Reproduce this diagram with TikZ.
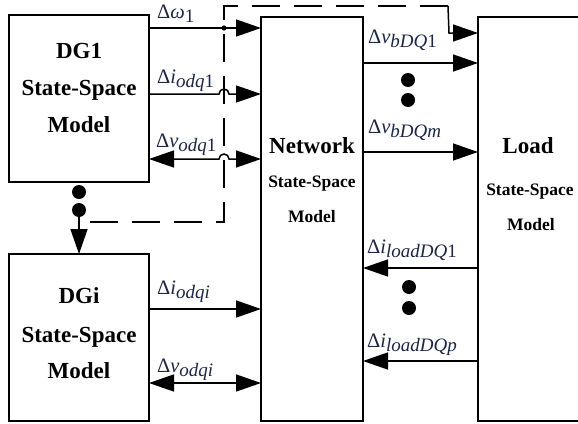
\documentclass[tikz,border=0pt]{standalone}
\usepackage{fontspec}
\setmainfont{Liberation Serif}
\usetikzlibrary{arrows.meta}
\definecolor{lab}{RGB}{28,38,70}
\newcommand{\lbl}[2]{\textcolor{lab}{{\fontsize{20.5}{20}\selectfont Δ#1}{\fontsize{19}{18}\selectfont\raisebox{-4.5pt}{#2}}}}
\tikzset{
  box/.style={draw, line width=2pt, inner sep=0pt, outer sep=0pt},
  big/.style={font=\fontsize{23}{23}\selectfont\bfseries, anchor=base, inner sep=0pt},
  small/.style={font=\fontsize{17.5}{17.5}\selectfont\bfseries, anchor=base, inner sep=0pt},
  lb/.style={anchor=base west, inner sep=0pt},
  tip/.tip={Triangle[length=25pt,width=17pt]},
  arr/.style={line width=1.5pt, -tip},
  darr/.style={line width=1.5pt, tip-tip},
  dsh/.style={line width=1.5pt, dash pattern=on 28pt off 14pt},
  hop/.style={line width=1.5pt}
}
\begin{document}
\begin{tikzpicture}[x=1pt,y=-1pt]
\useasboundingbox (0,0) rectangle (578,423);
\clip (0,0) rectangle (578,423);
\fill[white] (0,0) rectangle (578,423);
% boxes
\node[box, minimum width=140pt, minimum height=167pt] (DG1) at (79,98.5) {};
\node[box, minimum width=140pt, minimum height=167pt] (DGi) at (79,337.5) {};
\node[box, minimum width=102pt, minimum height=404pt] (Net) at (312,219) {};
\node[box, minimum width=104pt, minimum height=404pt] (Load) at (530,219) {};
% box texts
\node[big] (t1) at (79,58) {DG1};
\node[big] (t2) at (79,95) {State-Space};
\node[big] (t3) at (79,132) {Model};
\node[big] (t4) at (79,303) {DGi};
\node[big] (t5) at (79,342) {State-Space};
\node[big] (t6) at (79,378) {Model};
\node[big] (t7) at (312,153) {Network};
\node[small] (t8) at (312,187) {State-Space};
\node[small] (t9) at (312,222) {Model};
\node[big] (t10) at (528,153) {Load};
\node[small] (t11) at (530,195) {State-Space};
\node[small] (t12) at (531,230) {Model};
% dashed feedback line
\coordinate (d0) at (90,222);
\coordinate (d1) at (224,222);
\coordinate (d2) at (224,6);
\coordinate (d3) at (448,6);
\coordinate (d4) at (449,33);
\draw[dsh] (d0) -- (d1) -- (d2) -- (d3);
\draw[arr] (d3) -- (d4) -- (Load.west |- d4);
% DG1 arrows
\coordinate (j) at (224,28);
\draw[arr] (DG1.east |- j) -- (Net.west |- j);
\fill (j) circle[radius=2.6pt];
\draw[hop, -tip] (DG1.east |- 0,94) -- (219,94) arc[start angle=180, end angle=0, radius=5pt] -- (Net.west |- 0,94);
\draw[hop, tip-tip] (DG1.east |- 0,159) -- (219,159) arc[start angle=180, end angle=0, radius=5pt] -- (Net.west |- 0,159);
% DGi arrows
\draw[arr] (DGi.east |- 0,309) -- (Net.west |- 0,309);
\draw[darr] (DGi.east |- 0,383) -- (Net.west |- 0,383);
% Network to Load
\draw[arr] (Net.east |- 0,63) -- (Load.west |- 0,63);
\draw[arr] (Net.east |- 0,152) -- (Load.west |- 0,152);
% Load to Network
\draw[arr] (Load.west |- 0,268) -- (Net.east |- 0,268);
\draw[arr] (Load.west |- 0,361) -- (Net.east |- 0,361);
% dots
\fill (79,192) circle[radius=7pt];
\fill (79,210) circle[radius=7pt];
\coordinate (a0) at (79,217);
\draw[arr] (a0) -- (DGi.north);
\fill (408,80) circle[radius=7pt];
\fill (408,100) circle[radius=7pt];
\fill (409,287) circle[radius=7pt];
\fill (409,308) circle[radius=7pt];
% labels
\node[lb] (l1) at (157,18) {\textcolor{lab}{{\fontsize{20.5}{20}\selectfont Δ\textit{ω}}{\fontsize{19}{18}\selectfont\raisebox{-4.5pt}{1}}}};
\node[lb] (l2) at (157,83) {\lbl{\textit{i}}{\textit{odq}1}};
\node[lb] (l3) at (156,147) {\lbl{\textit{v}}{\textit{odq}1}};
\node[lb] (l4) at (157,294) {\lbl{\textit{i}}{\textit{odqi}}};
\node[lb] (l5) at (157,372) {\lbl{\textit{v}}{\textit{odqi}}};
\node[lb] (l6) at (368,43) {\lbl{\textit{v}}{\textit{bDQ}1}};
\node[lb] (l7) at (368,133) {\lbl{\textit{v}}{\textit{bDQm}}};
\node[lb] (l8) at (367,253) {\lbl{\textit{i}}{\textit{loadDQ}1}};
\node[lb] (l9) at (367,347) {\lbl{\textit{i}}{\textit{loadDQp}}};
\end{tikzpicture}
\end{document}
